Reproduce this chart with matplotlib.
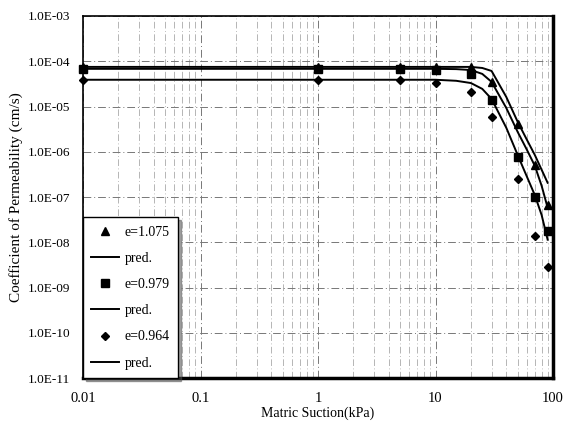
import numpy as np
import matplotlib
matplotlib.use("Agg")
import matplotlib.pyplot as plt
from matplotlib.ticker import FuncFormatter, LogLocator, FixedLocator

plt.rcParams['font.family'] = ['Liberation Serif', 'DejaVu Serif']

# measured points (matric suction kPa, permeability cm/s)
suction = [0.01, 1, 5, 10, 20, 30, 50, 70, 90]
k_1075 = [7.4e-5, 7.6e-5, 7.6e-5, 7.6e-5, 7.4e-5, 3.5e-5, 4.2e-6, 5.0e-7, 6.8e-8]
k_0979 = [6.6e-5, 6.6e-5, 6.6e-5, 6.4e-5, 5.2e-5, 1.4e-5, 7.8e-7, 1.0e-7, 1.8e-8]
k_0964 = [3.9e-5, 3.9e-5, 3.9e-5, 3.3e-5, 2.1e-5, 5.9e-6, 2.5e-7, 1.4e-8, 2.9e-9]

# predicted curves
pred_x = [0.01, 1, 10, 15, 20, 25, 30, 40, 50, 60, 70, 80, 90]
pred_1075 = [7.5e-5, 7.5e-5, 7.5e-5, 7.5e-5, 7.5e-5, 7.1e-5, 6.1e-5, 1.63e-5, 4.6e-6, 1.83e-6, 8.5e-7, 4.0e-7, 2.06e-7]
pred_0979 = [6.8e-5, 6.8e-5, 6.8e-5, 6.7e-5, 6.4e-5, 5.25e-5, 3.5e-5, 9.3e-6, 2.75e-6, 1.1e-6, 4.9e-7, 1.77e-7, 5.8e-8]
pred_0964 = [3.9e-5, 3.9e-5, 3.9e-5, 3.7e-5, 3.3e-5, 2.45e-5, 1.47e-5, 3.4e-6, 8.5e-7, 2.8e-7, 1.1e-7, 4.0e-8, 1.14e-8]

xticks = [0.01, 0.1, 1, 10, 100]
xtick_labels = ['0.01', '0.1', '1', '10', '100']

fig = plt.figure(figsize=(5.71, 4.30), dpi=100)
ax = fig.add_axes([0.1454, 0.1209, 0.8231, 0.8419])

ax.set_xscale('log')
ax.set_yscale('log')
ax.set_xlim(0.01, 100)
ax.set_ylim(1e-11, 1e-3)

# grid: dash-dot, vertical at minor ticks too
ax.xaxis.set_minor_locator(LogLocator(base=10, subs=np.arange(2, 10)))
ax.grid(True, which='major', axis='both', color='#777777', linestyle=(0, (8, 3, 1, 3)), linewidth=0.7)
ax.grid(True, which='minor', axis='x', color='#aaaaaa', linestyle=(0, (8, 3, 1, 3)), linewidth=0.6)
ax.set_axisbelow(True)

ax.plot(suction, k_1075, linestyle='none', marker='^', color='black', markersize=6,
        label='e=1.075', clip_on=False, zorder=4)
ax.plot(pred_x, pred_1075, color='black', linewidth=1.4, label='pred.', zorder=3)
ax.plot(suction, k_0979, linestyle='none', marker='s', color='black', markersize=6,
        label='e=0.979', clip_on=False, zorder=4)
ax.plot(pred_x, pred_0979, color='black', linewidth=1.4, label='pred.', zorder=3)
ax.plot(suction, k_0964, linestyle='none', marker='D', color='black', markersize=4.5,
        label='e=0.964', clip_on=False, zorder=4)
ax.plot(pred_x, pred_0964, color='black', linewidth=1.4, label='pred.', zorder=3)

ax.xaxis.set_major_locator(FixedLocator(xticks))
ax.set_xticklabels(xtick_labels)
ax.yaxis.set_major_locator(LogLocator(base=10, numticks=20))
ax.yaxis.set_minor_locator(FixedLocator([]))
ax.yaxis.set_major_formatter(FuncFormatter(lambda v, p: '%.1E' % v))
ax.tick_params(axis='y', which='both', length=0, labelsize=9.5, pad=9)
ax.tick_params(axis='x', which='both', length=0, labelsize=10.5, pad=10)

for s in ['top', 'left']:
    ax.spines[s].set_linewidth(1.2)
for s in ['bottom', 'right']:
    ax.spines[s].set_linewidth(2.5)

ax.set_xlabel('Matric Suction(kPa)', fontsize=10, labelpad=1)
ax.set_ylabel('Coefficient of Permeability (cm/s)', fontsize=11)
ax.yaxis.set_label_coords(-0.128, 0.5)

leg = ax.legend(loc='lower left', numpoints=1, fontsize=10, frameon=True, fancybox=False,
                shadow=True, borderaxespad=0, labelspacing=0.95, handlelength=2.0,
                handletextpad=0.4, borderpad=0.6, edgecolor='black')
leg.get_frame().set_linewidth(1.0)

fig.savefig('out.png', dpi=100)
